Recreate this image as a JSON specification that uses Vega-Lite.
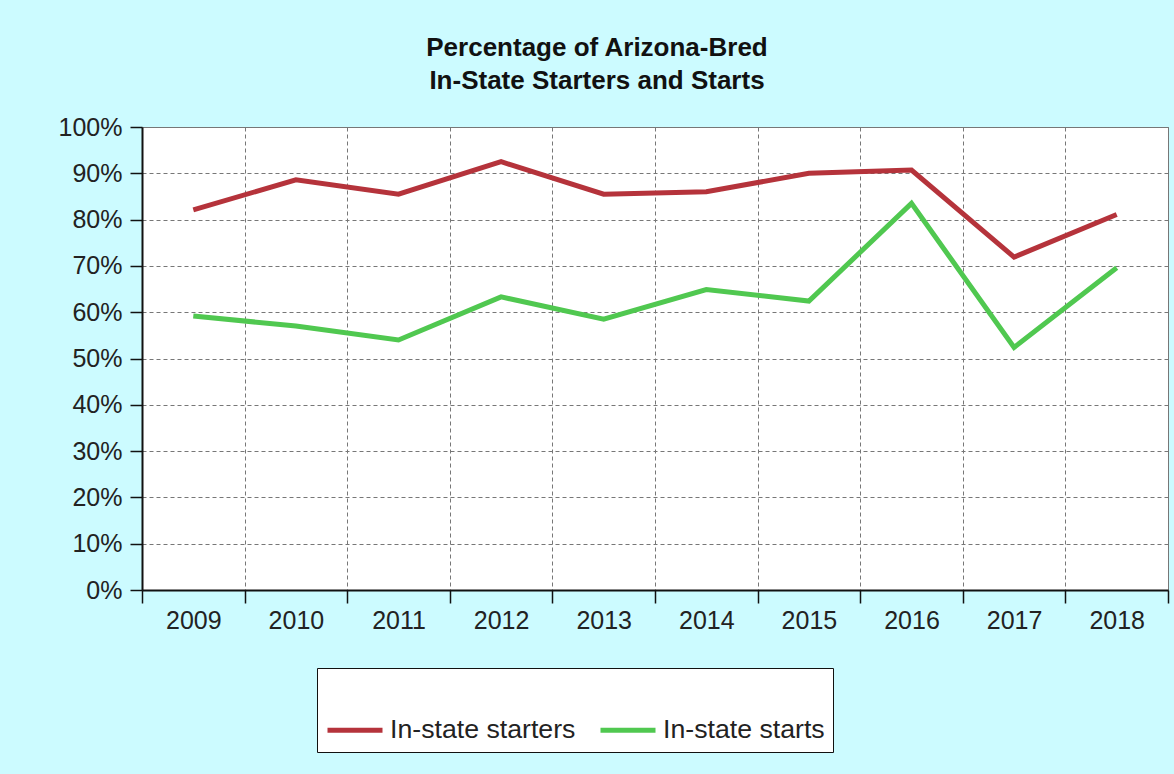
{
  "$schema": "https://vega.github.io/schema/vega-lite/v6.json",
  "autosize": {"type": "none"},
  "width": 1026,
  "height": 463,
  "padding": {"left": 142, "top": 127, "right": 6, "bottom": 184},
  "background": "#ccfbff",
  "title": {
    "text": ["Percentage of Arizona-Bred", "In-State Starters and Starts"],
    "font": "Liberation Sans",
    "fontSize": 26,
    "fontWeight": "bold",
    "color": "#111111",
    "anchor": "middle",
    "frame": "group",
    "offset": 21,
    "lineHeight": 33,
    "dx": -58
  },
  "data": {
    "values": [
      {"year": "2009", "series": "In-state starters", "pct": 82.1},
      {"year": "2010", "series": "In-state starters", "pct": 88.6},
      {"year": "2011", "series": "In-state starters", "pct": 85.5},
      {"year": "2012", "series": "In-state starters", "pct": 92.5},
      {"year": "2013", "series": "In-state starters", "pct": 85.5},
      {"year": "2014", "series": "In-state starters", "pct": 86.0},
      {"year": "2015", "series": "In-state starters", "pct": 90.0},
      {"year": "2016", "series": "In-state starters", "pct": 90.7},
      {"year": "2017", "series": "In-state starters", "pct": 71.9},
      {"year": "2018", "series": "In-state starters", "pct": 81.1},
      {"year": "2009", "series": "In-state starts", "pct": 59.2},
      {"year": "2010", "series": "In-state starts", "pct": 57.0},
      {"year": "2011", "series": "In-state starts", "pct": 54.0},
      {"year": "2012", "series": "In-state starts", "pct": 63.3},
      {"year": "2013", "series": "In-state starts", "pct": 58.5},
      {"year": "2014", "series": "In-state starts", "pct": 64.9},
      {"year": "2015", "series": "In-state starts", "pct": 62.4},
      {"year": "2016", "series": "In-state starts", "pct": 83.5},
      {"year": "2017", "series": "In-state starts", "pct": 52.4},
      {"year": "2018", "series": "In-state starts", "pct": 69.6}
    ]
  },
  "mark": {"type": "line", "strokeWidth": 5},
  "encoding": {
    "x": {
      "field": "year",
      "type": "ordinal",
      "scale": {"type": "band", "paddingInner": 0, "paddingOuter": 0},
      "axis": {
        "title": null,
        "labelAngle": 0,
        "labelFont": "Liberation Sans",
        "labelFontSize": 25,
        "labelColor": "#222222",
        "labelPadding": 5,
        "tickBand": "extent",
        "tickSize": 13,
        "tickColor": "#111111",
        "tickWidth": 1.5,
        "domainColor": "#111111",
        "domainWidth": 2,
        "grid": true,
        "gridColor": "#777777",
        "gridDash": [4, 3],
        "gridWidth": 1
      }
    },
    "y": {
      "field": "pct",
      "type": "quantitative",
      "scale": {"domain": [0, 100], "nice": false, "zero": true},
      "axis": {
        "title": null,
        "values": [0, 10, 20, 30, 40, 50, 60, 70, 80, 90, 100],
        "labelExpr": "datum.value + '%'",
        "labelFont": "Liberation Sans",
        "labelFontSize": 25,
        "labelColor": "#222222",
        "labelPadding": 8,
        "tickSize": 12,
        "tickColor": "#111111",
        "tickWidth": 1.5,
        "domainColor": "#111111",
        "domainWidth": 2,
        "grid": true,
        "gridColor": "#777777",
        "gridDash": [4, 3],
        "gridWidth": 1
      }
    },
    "color": {
      "field": "series",
      "type": "nominal",
      "scale": {
        "domain": ["In-state starters", "In-state starts"],
        "range": ["#b5333b", "#50c850"]
      },
      "legend": {
        "orient": "none",
        "legendX": 175,
        "legendY": 541,
        "direction": "horizontal",
        "gridAlign": "all",
        "title": "\u2003",
        "titleFont": "Liberation Sans",
        "titleFontSize": 22,
        "titlePadding": 2,
        "fillColor": "#ffffff",
        "strokeColor": "#111111",
        "padding": 8,
        "symbolType": "stroke",
        "symbolSize": 3025,
        "symbolStrokeWidth": 5,
        "labelFont": "Liberation Sans",
        "labelFontSize": 26.7,
        "labelColor": "#222222",
        "labelOffset": 5,
        "labelLimit": 400,
        "columnPadding": 14
      }
    }
  },
  "config": {
    "view": {"stroke": "#777777", "strokeWidth": 1, "fill": "#ffffff"}
  }
}
